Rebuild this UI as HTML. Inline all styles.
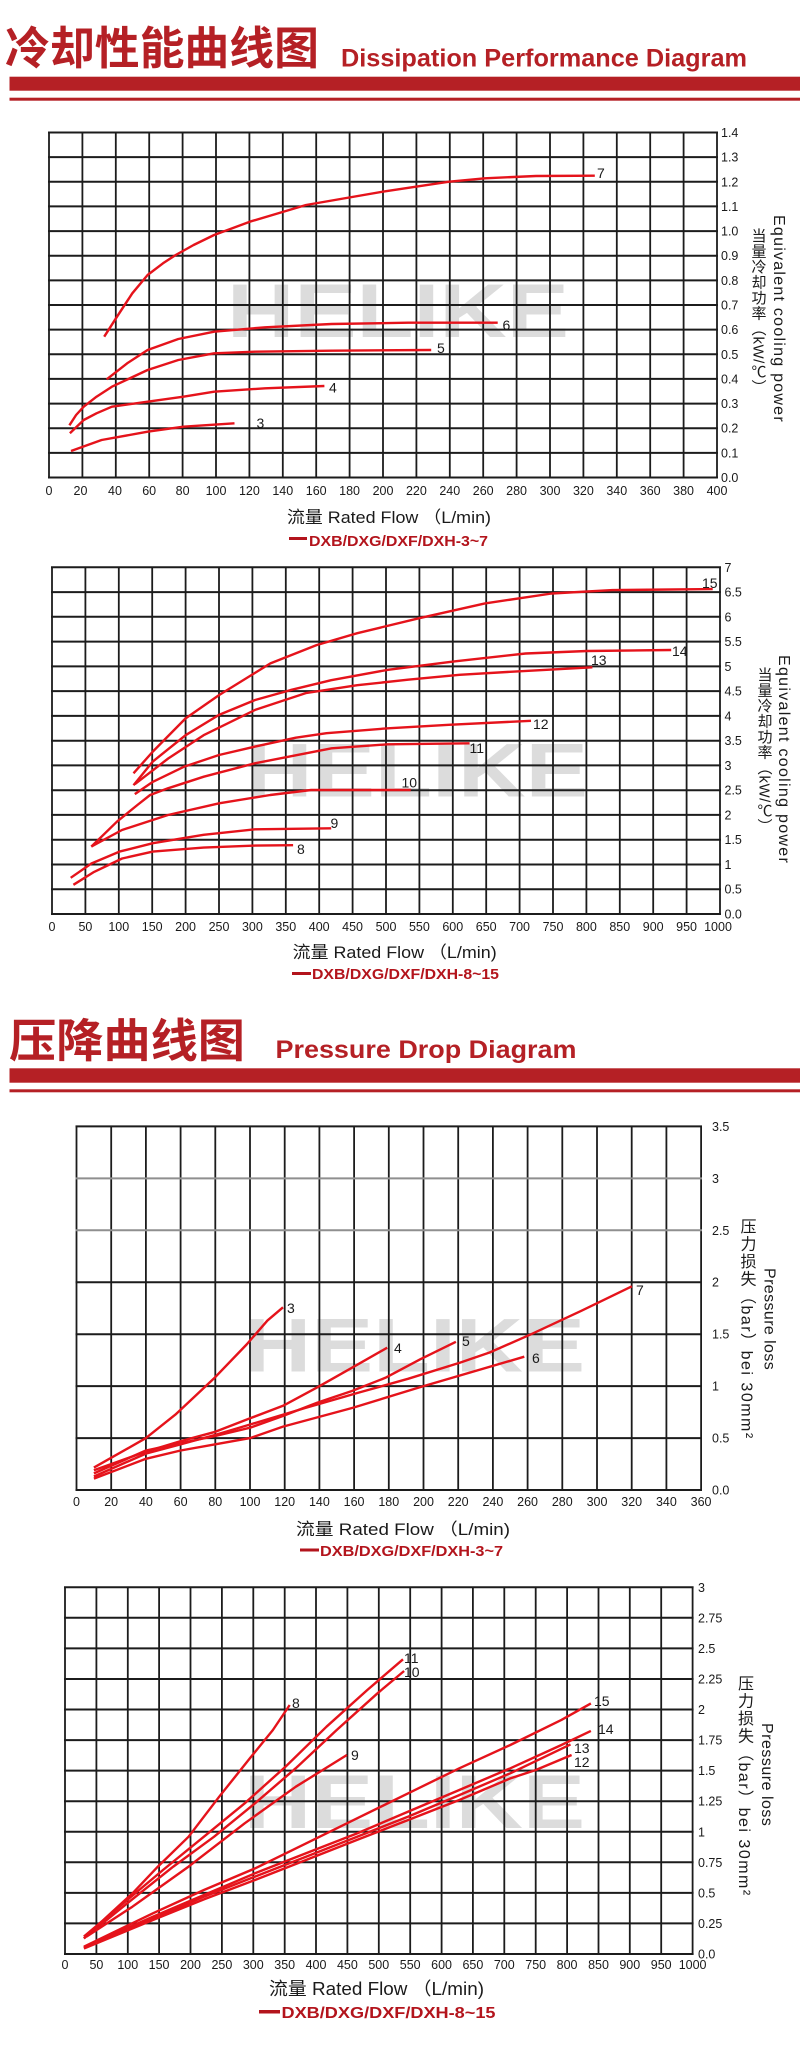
<!DOCTYPE html>
<html><head><meta charset="utf-8"><style>
html,body{margin:0;padding:0;background:#fff}
body{width:800px;height:2059px;position:relative;overflow:hidden;font-family:"Liberation Sans","Noto Sans CJK SC",sans-serif}
svg{position:absolute;left:0;top:0}
.vt{position:absolute;writing-mode:vertical-rl;white-space:nowrap;line-height:1;color:#1a1a1a;font-family:"Liberation Sans","Noto Sans CJK SC",sans-serif}
</style></head><body>
<svg width="800" height="2059" viewBox="0 0 800 2059" xmlns="http://www.w3.org/2000/svg" font-family="Liberation Sans, Noto Sans CJK SC, sans-serif">
<rect width="800" height="2059" fill="#fff"/>
<!-- Header 1 -->
<text x="5" y="64" font-size="45" font-weight="bold" fill="#b52025" textLength="314" lengthAdjust="spacingAndGlyphs" font-family="Noto Sans CJK SC, sans-serif">冷却性能曲线图</text>
<text x="341" y="66.7" font-size="25" font-weight="bold" fill="#b52025" textLength="406" lengthAdjust="spacingAndGlyphs">Dissipation Performance Diagram</text>
<rect x="9.5" y="76.7" width="790.5" height="14" fill="#b52025"/>
<rect x="9.5" y="97.7" width="790.5" height="3" fill="#b52025"/>

<!-- Chart 1 -->
<text x="227" y="337" font-size="76" font-weight="bold" fill="#dcdcdc" textLength="342" lengthAdjust="spacingAndGlyphs">HELIKE</text>
<path fill="none" stroke="#1c1c1c" stroke-width="1.8" d="M49 132.5V477.5M82.4 132.5V477.5M115.8 132.5V477.5M149.2 132.5V477.5M182.6 132.5V477.5M216 132.5V477.5M249.4 132.5V477.5M282.8 132.5V477.5M316.2 132.5V477.5M349.6 132.5V477.5M383 132.5V477.5M416.4 132.5V477.5M449.8 132.5V477.5M483.2 132.5V477.5M516.6 132.5V477.5M550 132.5V477.5M583.4 132.5V477.5M616.8 132.5V477.5M650.2 132.5V477.5M683.6 132.5V477.5M717 132.5V477.5"/>
<path fill="none" stroke="#1c1c1c" stroke-width="2" d="M48 132.5H718M48 157.1H718M48 181.8H718M48 206.4H718M48 231.1H718M48 255.7H718M48 280.4H718M48 305H718M48 329.6H718M48 354.3H718M48 378.9H718M48 403.6H718M48 428.2H718M48 452.9H718M48 477.5H718"/>
<g fill="none" stroke="#e5131b" stroke-width="2.4" stroke-linejoin="round">
<polyline points="104.2,336.7 117,316.7 132.3,293.3 147.6,275 163,263.3 175.7,255 193.6,245 214.1,235 249.8,221.7 306,205 382.7,191.7 449.1,181.7 484.9,178.3 536,176 594.8,175.7"/>
<polyline points="106.7,379.3 127.2,363.3 147.6,350 178.3,339 214.1,331.7 265.2,327.3 331.6,324 408.2,322.7 497.7,322.7"/>
<polyline points="69.4,425.3 76.1,415 83.7,406.7 96.5,396.7 111.9,386.7 147.6,370 178.3,360 214.1,353.3 255,351.7 331.6,350.7 431.2,350"/>
<polyline points="69.9,433.3 83.7,420 96.5,413.3 111.9,406.7 147.6,401.7 183.4,396.7 214.1,391.7 265.2,388.3 324.4,386"/>
<polyline points="71,451 101.6,440 147.6,431.7 183.4,426.7 234.5,423.3"/>
</g>
<g font-size="14" fill="#1a1a1a">
<text x="597" y="178">7</text><text x="502.5" y="330">6</text><text x="437" y="353">5</text><text x="329" y="392.5">4</text><text x="256.5" y="428">3</text>
</g>
<g font-size="12.5" fill="#1a1a1a" text-anchor="middle">
<text x="49" y="495">0</text><text x="80.5" y="495">20</text><text x="115" y="495">40</text><text x="149.2" y="495">60</text><text x="182.6" y="495">80</text><text x="216" y="495">100</text><text x="249.4" y="495">120</text><text x="282.8" y="495">140</text><text x="316.2" y="495">160</text><text x="349.6" y="495">180</text><text x="383" y="495">200</text><text x="416.4" y="495">220</text><text x="449.8" y="495">240</text><text x="483.2" y="495">260</text><text x="516.6" y="495">280</text><text x="550" y="495">300</text><text x="583.4" y="495">320</text><text x="616.8" y="495">340</text><text x="650.2" y="495">360</text><text x="683.6" y="495">380</text><text x="717" y="495">400</text>
</g>
<g font-size="12.5" fill="#1a1a1a">
<text x="721" y="137">1.4</text><text x="721" y="161.6">1.3</text><text x="721" y="186.3">1.2</text><text x="721" y="210.9">1.1</text><text x="721" y="235.6">1.0</text><text x="721" y="260.2">0.9</text><text x="721" y="284.9">0.8</text><text x="721" y="309.5">0.7</text><text x="721" y="334.1">0.6</text><text x="721" y="358.8">0.5</text><text x="721" y="383.4">0.4</text><text x="721" y="408.1">0.3</text><text x="721" y="432.7">0.2</text><text x="721" y="457.4">0.1</text><text x="721" y="482">0.0</text>
</g>
<text x="287" y="523" font-size="17" fill="#1a1a1a" textLength="204" lengthAdjust="spacingAndGlyphs">流量 Rated Flow （L/min)</text>
<rect x="289" y="537" width="18" height="3" fill="#b3141c"/>
<text x="309" y="546" font-size="15" font-weight="bold" fill="#b3141c" textLength="179" lengthAdjust="spacingAndGlyphs">DXB/DXG/DXF/DXH-3~7</text>

<!-- Chart 2 -->
<text x="245" y="796.7" font-size="76" font-weight="bold" fill="#dcdcdc" textLength="343" lengthAdjust="spacingAndGlyphs">HELIKE</text>
<path fill="none" stroke="#1c1c1c" stroke-width="1.8" d="M52 567.3V914M85.4 567.3V914M118.8 567.3V914M152.2 567.3V914M185.6 567.3V914M219 567.3V914M252.4 567.3V914M285.8 567.3V914M319.2 567.3V914M352.6 567.3V914M386 567.3V914M419.4 567.3V914M452.8 567.3V914M486.2 567.3V914M519.6 567.3V914M553 567.3V914M586.4 567.3V914M619.8 567.3V914M653.2 567.3V914M686.6 567.3V914M720 567.3V914"/>
<path fill="none" stroke="#1c1c1c" stroke-width="2" d="M51 567.3H721M51 592.1H721M51 616.8H721M51 641.6H721M51 666.4H721M51 691.1H721M51 715.9H721M51 740.7H721M51 765.4H721M51 790.2H721M51 814.9H721M51 839.7H721M51 864.5H721M51 889.2H721M51 914H721"/>
<g fill="none" stroke="#e5131b" stroke-width="2.4" stroke-linejoin="round">
<polyline points="133.5,773.3 152.9,751.5 185.6,718.4 219,695.1 270.4,663.4 316.5,645.1 357.3,633.2 418.7,618.3 484.9,603.4 551.7,593.5 612.5,590.1 712.7,589.1"/>
<polyline points="133.5,785.2 152.9,761.4 185.6,735.2 219,714.9 255.1,700 290.5,690.1 331.2,680.2 388,669.8 454.1,661.4 525.6,653.5 587.1,651 671.2,650"/>
<polyline points="134.8,784.2 168.2,758.5 203.6,735.2 255.1,709.9 305.8,693.1 357.3,685.2 408,679.7 459.5,674.8 510.2,671.8 592.4,667.3"/>
<polyline points="134.8,794.1 152.9,781.8 183.6,766.9 219,755 255.1,746.6 295.8,737.7 326.5,733.2 388,728.3 448.8,724.8 531,720.8"/>
<polyline points="91.3,846.6 116.9,821.7 137.4,805 150.1,795 168,788.3 203.8,776.7 254.9,763.3 306,753.3 331.6,748.3 387.8,744.3 469.6,743.3"/>
<polyline points="91.3,846.6 122,830 168,815 219.1,803.3 270.2,795 311.1,790 410.8,790"/>
<polyline points="70.7,877.8 91.4,863.5 119.5,851.6 152.9,843.2 203.6,834.8 255.1,829.3 331.2,828.3"/>
<polyline points="73.4,884.8 94.1,871.9 122.1,858.5 152.9,851.6 203.6,847.6 255.1,845.6 293.1,845.2"/>
</g>
<g font-size="14" fill="#1a1a1a">
<text x="702" y="588">15</text><text x="672" y="656">14</text><text x="591" y="665">13</text><text x="533" y="729">12</text><text x="469.5" y="753">11</text><text x="401.5" y="787.5">10</text><text x="330.5" y="828">9</text><text x="297" y="854">8</text>
</g>
<g font-size="12.5" fill="#1a1a1a" text-anchor="middle">
<text x="52" y="931">0</text><text x="85.4" y="931">50</text><text x="118.8" y="931">100</text><text x="152.2" y="931">150</text><text x="185.6" y="931">200</text><text x="219" y="931">250</text><text x="252.4" y="931">300</text><text x="285.8" y="931">350</text><text x="319.2" y="931">400</text><text x="352.6" y="931">450</text><text x="386" y="931">500</text><text x="419.4" y="931">550</text><text x="452.8" y="931">600</text><text x="486.2" y="931">650</text><text x="519.6" y="931">700</text><text x="553" y="931">750</text><text x="586.4" y="931">800</text><text x="619.8" y="931">850</text><text x="653.2" y="931">900</text><text x="686.6" y="931">950</text><text x="718" y="931">1000</text>
</g>
<g font-size="12.5" fill="#1a1a1a">
<text x="724.5" y="571.8">7</text><text x="724.5" y="596.6">6.5</text><text x="724.5" y="621.3">6</text><text x="724.5" y="646.1">5.5</text><text x="724.5" y="670.9">5</text><text x="724.5" y="695.6">4.5</text><text x="724.5" y="720.4">4</text><text x="724.5" y="745.2">3.5</text><text x="724.5" y="769.9">3</text><text x="724.5" y="794.7">2.5</text><text x="724.5" y="819.4">2</text><text x="724.5" y="844.2">1.5</text><text x="724.5" y="869">1</text><text x="724.5" y="893.7">0.5</text><text x="724.5" y="918.5">0.0</text>
</g>
<text x="292.7" y="958" font-size="17" fill="#1a1a1a" textLength="204" lengthAdjust="spacingAndGlyphs">流量 Rated Flow （L/min)</text>
<rect x="292" y="972" width="19" height="3" fill="#b3141c"/>
<text x="312" y="979" font-size="15" font-weight="bold" fill="#b3141c" textLength="187" lengthAdjust="spacingAndGlyphs">DXB/DXG/DXF/DXH-8~15</text>

<!-- Header 2 -->
<text x="9" y="1057" font-size="46" font-weight="bold" fill="#b52025" textLength="236" lengthAdjust="spacingAndGlyphs" font-family="Noto Sans CJK SC, sans-serif">压降曲线图</text>
<text x="275.5" y="1058" font-size="25" font-weight="bold" fill="#b52025" textLength="301" lengthAdjust="spacingAndGlyphs">Pressure Drop Diagram</text>
<rect x="9.5" y="1068.3" width="790.5" height="14.4" fill="#b52025"/>
<rect x="9.5" y="1089.3" width="790.5" height="3" fill="#b52025"/>

<!-- Pressure chart 1 -->
<text x="244" y="1371.7" font-size="76" font-weight="bold" fill="#dcdcdc" textLength="341" lengthAdjust="spacingAndGlyphs">HELIKE</text>
<path fill="none" stroke="#1c1c1c" stroke-width="1.8" d="M76.5 1126.4V1490M111.2 1126.4V1490M145.9 1126.4V1490M180.6 1126.4V1490M215.3 1126.4V1490M250 1126.4V1490M284.7 1126.4V1490M319.4 1126.4V1490M354.1 1126.4V1490M388.8 1126.4V1490M423.5 1126.4V1490M458.2 1126.4V1490M492.9 1126.4V1490M527.6 1126.4V1490M562.3 1126.4V1490M597 1126.4V1490M631.7 1126.4V1490M666.4 1126.4V1490M701.1 1126.4V1490"/>
<path fill="none" stroke="#1c1c1c" stroke-width="2" d="M75.5 1126.4H702M75.5 1282.2H702M75.5 1334.2H702M75.5 1386.1H702M75.5 1438.1H702M75.5 1490H702"/>
<path fill="none" stroke="#8f8f8f" stroke-width="2" d="M75.5 1178.4H702M75.5 1230.3H702"/>
<g fill="none" stroke="#e5131b" stroke-width="2.4" stroke-linejoin="round">
<polyline points="93.9,1467.6 145.9,1438.1 175.4,1414.6 213.6,1378.8 246.6,1344.5 267.4,1320.6 283,1307.3"/>
<polyline points="93.9,1470.3 145.9,1451.6 180.6,1441.2 215.3,1431.8 250.1,1418.3 283,1405.8 317.8,1387.1 352.5,1367.4 387.2,1347.7"/>
<polyline points="93.9,1473.4 145.9,1450.5 180.6,1443.2 215.3,1436 250.1,1427.7 282.2,1416.2 317.1,1402.7 351.6,1391.1 385.4,1377.8 420.2,1359.3 455.9,1341.8"/>
<polyline points="93.9,1476.5 145.9,1453.6 180.6,1444.3 215.3,1434.9 250.1,1424.5 305.6,1407.9 357.7,1392.9 408,1378.8 460.1,1362.6 489.6,1352.5 531.2,1334.2 581.6,1310.7 631.9,1286.3"/>
<polyline points="93.9,1478.6 145.9,1458.8 180.6,1450.5 215.3,1444.3 250.1,1438.1 283,1426.6 352.5,1407.9 420.2,1387.1 524.3,1356.7"/>
</g>
<g font-size="14" fill="#1a1a1a">
<text x="287" y="1313">3</text><text x="394" y="1353">4</text><text x="462" y="1346">5</text><text x="636" y="1295">7</text><text x="532" y="1363">6</text>
</g>
<g font-size="12.5" fill="#1a1a1a" text-anchor="middle">
<text x="76.5" y="1506">0</text><text x="111.2" y="1506">20</text><text x="145.9" y="1506">40</text><text x="180.6" y="1506">60</text><text x="215.3" y="1506">80</text><text x="250" y="1506">100</text><text x="284.7" y="1506">120</text><text x="319.4" y="1506">140</text><text x="354.1" y="1506">160</text><text x="388.8" y="1506">180</text><text x="423.5" y="1506">200</text><text x="458.2" y="1506">220</text><text x="492.9" y="1506">240</text><text x="527.6" y="1506">260</text><text x="562.3" y="1506">280</text><text x="597" y="1506">300</text><text x="631.7" y="1506">320</text><text x="666.4" y="1506">340</text><text x="701.1" y="1506">360</text>
</g>
<g font-size="12.5" fill="#1a1a1a">
<text x="712" y="1130.9">3.5</text><text x="712" y="1182.9">3</text><text x="712" y="1234.8">2.5</text><text x="712" y="1286.7">2</text><text x="712" y="1338.7">1.5</text><text x="712" y="1390.6">1</text><text x="712" y="1442.6">0.5</text><text x="712" y="1494.5">0.0</text>
</g>
<text x="296" y="1535" font-size="17" fill="#1a1a1a" textLength="214" lengthAdjust="spacingAndGlyphs">流量 Rated Flow （L/min)</text>
<rect x="300" y="1548.5" width="19" height="3" fill="#b3141c"/>
<text x="320" y="1556" font-size="15" font-weight="bold" fill="#b3141c" textLength="183" lengthAdjust="spacingAndGlyphs">DXB/DXG/DXF/DXH-3~7</text>

<!-- Pressure chart 2 -->
<text x="244" y="1828" font-size="76" font-weight="bold" fill="#dcdcdc" textLength="341" lengthAdjust="spacingAndGlyphs">HELIKE</text>
<path fill="none" stroke="#1c1c1c" stroke-width="1.8" d="M65 1587.3V1954M96.4 1587.3V1954M127.8 1587.3V1954M159.1 1587.3V1954M190.5 1587.3V1954M221.9 1587.3V1954M253.3 1587.3V1954M284.7 1587.3V1954M316 1587.3V1954M347.4 1587.3V1954M378.8 1587.3V1954M410.2 1587.3V1954M441.6 1587.3V1954M472.9 1587.3V1954M504.3 1587.3V1954M535.7 1587.3V1954M567.1 1587.3V1954M598.5 1587.3V1954M629.8 1587.3V1954M661.2 1587.3V1954M692.6 1587.3V1954"/>
<path fill="none" stroke="#1c1c1c" stroke-width="2" d="M64 1587.3H693.6M64 1617.8H693.6M64 1648.4H693.6M64 1679H693.6M64 1709.5H693.6M64 1740.1H693.6M64 1770.6H693.6M64 1801.2H693.6M64 1831.8H693.6M64 1862.3H693.6M64 1892.9H693.6M64 1923.4H693.6M64 1954H693.6"/>
<g fill="none" stroke="#e5131b" stroke-width="2.4" stroke-linejoin="round">
<polyline points="83.9,1938.4 106.9,1916.7 132.4,1893.4 157.9,1866.6 188.6,1836.7 219.2,1796.7 249.8,1758.4 272.9,1730 289.7,1705"/>
<polyline points="83.9,1936.6 127.3,1900 163,1870 203.9,1836.7 244.7,1803.3 285.6,1766.6 326.5,1726.7 367.3,1690 403,1659.3"/>
<polyline points="83.9,1938.4 127.3,1903.3 173.3,1866.6 214.1,1836.7 255,1803.3 295.8,1768.2 336.7,1730 377.5,1693.3 404.1,1671"/>
<polyline points="86.5,1936.6 132.4,1906.7 188.6,1866.6 244.7,1823.3 295.8,1786.7 346.9,1755"/>
<polyline points="83.9,1946.7 152.9,1913.3 203.9,1890 255,1868.4 306,1843.4 357.1,1818.3 408.2,1793.3 459.3,1768.3 510.3,1745 561.4,1719.9 590.9,1703.4"/>
<polyline points="83.9,1947.3 152.9,1916.7 203.9,1895 255,1873.3 306,1853.3 357.1,1833.4 408.2,1811.6 459.3,1790 510.3,1768.3 561.4,1745 590.9,1730.9"/>
<polyline points="83.9,1947.9 152.9,1918.6 203.9,1896.7 255,1876.6 306,1856.7 357.1,1836.7 408.2,1816.6 459.3,1795.1 510.3,1773.3 570.5,1744.4"/>
<polyline points="83.9,1948.5 152.9,1920 203.9,1899.4 255,1880 306,1860 357.1,1839.9 408.2,1820 459.3,1800 510.3,1778.4 535.8,1770 571.6,1755"/>
</g>
<g font-size="14" fill="#1a1a1a">
<text x="292" y="1708">8</text><text x="404" y="1663">11</text><text x="404" y="1677">10</text><text x="351" y="1760">9</text><text x="594" y="1706">15</text><text x="598" y="1734">14</text><text x="574" y="1753">13</text><text x="574" y="1767">12</text>
</g>
<g font-size="12.5" fill="#1a1a1a" text-anchor="middle">
<text x="65" y="1969">0</text><text x="96.4" y="1969">50</text><text x="127.8" y="1969">100</text><text x="159.1" y="1969">150</text><text x="190.5" y="1969">200</text><text x="221.9" y="1969">250</text><text x="253.3" y="1969">300</text><text x="284.7" y="1969">350</text><text x="316" y="1969">400</text><text x="347.4" y="1969">450</text><text x="378.8" y="1969">500</text><text x="410.2" y="1969">550</text><text x="441.6" y="1969">600</text><text x="472.9" y="1969">650</text><text x="504.3" y="1969">700</text><text x="535.7" y="1969">750</text><text x="567.1" y="1969">800</text><text x="598.5" y="1969">850</text><text x="629.8" y="1969">900</text><text x="661.2" y="1969">950</text><text x="692.6" y="1969">1000</text>
</g>
<g font-size="12.5" fill="#1a1a1a">
<text x="698" y="1591.8">3</text><text x="698" y="1622.3">2.75</text><text x="698" y="1652.9">2.5</text><text x="698" y="1683.5">2.25</text><text x="698" y="1714">2</text><text x="698" y="1744.6">1.75</text><text x="698" y="1775.1">1.5</text><text x="698" y="1805.7">1.25</text><text x="698" y="1836.3">1</text><text x="698" y="1866.8">0.75</text><text x="698" y="1897.4">0.5</text><text x="698" y="1927.9">0.25</text><text x="698" y="1958.5">0.0</text>
</g>
<text x="269" y="1995" font-size="18" fill="#1a1a1a" textLength="215" lengthAdjust="spacingAndGlyphs">流量 Rated Flow （L/min)</text>
<rect x="259" y="2010" width="21" height="3.5" fill="#b3141c"/>
<text x="281.5" y="2018" font-size="16" font-weight="bold" fill="#b3141c" textLength="214" lengthAdjust="spacingAndGlyphs">DXB/DXG/DXF/DXH-8~15</text>
</svg>

<div class="vt" style="left:770px;top:215px;font-size:16px;letter-spacing:1.25px">Equivalent cooling power</div>
<div class="vt" style="left:750.5px;top:228px;font-size:15px;letter-spacing:0.5px">当量冷却功率（kW/℃）</div>
<div class="vt" style="left:775px;top:655px;font-size:16px;letter-spacing:1.3px">Equivalent cooling power</div>
<div class="vt" style="left:756.5px;top:667px;font-size:15px;letter-spacing:0.5px">当量冷却功率（kW/℃）</div>
<div class="vt" style="left:760.5px;top:1268px;font-size:16px;letter-spacing:0.4px">Pressure loss</div>
<div class="vt" style="left:737.5px;top:1218px;font-size:16px;letter-spacing:1.5px">压力损失（bar）bei 30mm²</div>
<div class="vt" style="left:758px;top:1723px;font-size:16px;letter-spacing:0.5px">Pressure loss</div>
<div class="vt" style="left:735px;top:1675px;font-size:16px;letter-spacing:1.5px">压力损失（bar）bei 30mm²</div>
</body></html>
